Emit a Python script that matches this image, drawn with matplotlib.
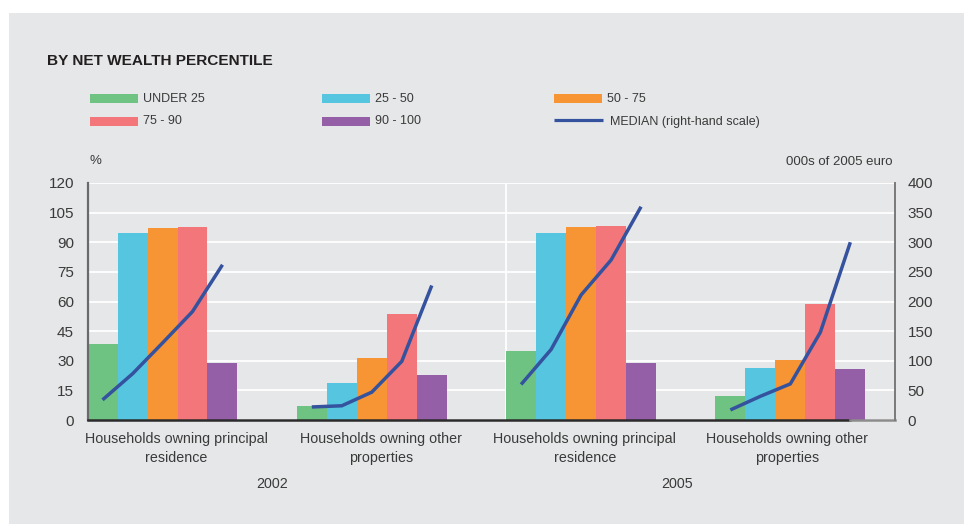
import numpy as np
import matplotlib
matplotlib.use("Agg")
import matplotlib.pyplot as plt
from matplotlib.patches import Rectangle
from matplotlib.lines import Line2D

plt.rcParams['font.family'] = ['Liberation Sans', 'DejaVu Sans']

# ---- data -------------------------------------------------------------
categories = [
    "Households owning principal\nresidence",
    "Households owning other\nproperties",
    "Households owning principal\nresidence",
    "Households owning other\nproperties",
]
years = ["2002", "2005"]
series_names = ["UNDER 25", "25 - 50", "50 - 75", "75 - 90", "90 - 100"]
median_name = "MEDIAN (right-hand scale)"

# share of households (%), one list per percentile group, across the 4 categories
under_25 = [38.7, 6.9, 35.1, 12.0]
p25_50 = [94.7, 18.5, 94.6, 26.1]
p50_75 = [97.2, 31.6, 97.6, 30.6]
p75_90 = [97.7, 53.8, 98.2, 58.9]
p90_100 = [29.1, 23.0, 29.1, 25.6]

# median value (000s of 2005 euro) per percentile group within each category
median_values = [
    [34, 78, 130, 183, 262],
    [22, 24, 47, 99, 227],
    [60, 119, 211, 270, 360],
    [17, 40, 61, 148, 300],
]

left_ticks = [0, 15, 30, 45, 60, 75, 90, 105, 120]
right_ticks = [0, 50, 100, 150, 200, 250, 300, 350, 400]

# ---- styling ------------------------------------------------------------
colors = ["#6fc382", "#56c5e0", "#f79434", "#f2767a", "#955fa7"]
line_color = "#35529f"
bg = "#e6e7e8"
text_color = "#3a3a3a"

W, H = 964, 524
fig = plt.figure(figsize=(W / 100, H / 100), dpi=100)
fig.patch.set_facecolor("white")
fig.add_artist(Rectangle((9 / W, 0), 1 - 9 / W, 1 - 13 / H,
                         transform=fig.transFigure, facecolor=bg,
                         edgecolor="none", zorder=-10))

ax = fig.add_axes([88 / W, (H - 420) / H, (895 - 88) / W, (420 - 183) / H])
ax.set_facecolor(bg)

n_series = len(series_names)
bar_w = 0.1433
group_x = np.arange(len(categories))
offsets = (np.arange(n_series) - (n_series - 1) / 2) * bar_w
bar_data = [under_25, p25_50, p50_75, p75_90, p90_100]

for k, (vals, col) in enumerate(zip(bar_data, colors)):
    ax.bar(group_x + offsets[k], vals, width=bar_w, color=col,
           edgecolor="none", zorder=2)

xmin = -0.356
xmax = 3.5
ax.set_xlim(xmin, xmax)
ax.set_ylim(0, 120)
ax.set_yticks(left_ticks)
ax.set_axisbelow(True)
ax.yaxis.grid(True, color="white", linewidth=1.3)
ax.xaxis.grid(False)

# white divider between the two survey years
sep_x = group_x[2] + offsets[0] - bar_w / 2
ax.axvline(sep_x, color="white", linewidth=1.3, zorder=1)

# category labels under each group
label_pos = [0.065, 1.044, 2.018, 2.984]
ax.set_xticks(label_pos)
ax.set_xticklabels(categories, fontsize=10.3, color=text_color, linespacing=1.45)
ax.tick_params(axis="x", length=0, pad=9)
ax.tick_params(axis="y", length=0, pad=10, labelsize=11, labelcolor=text_color)

for s in ["top", "right"]:
    ax.spines[s].set_visible(False)
ax.spines["left"].set_color("#6a6a6a")
ax.spines["left"].set_linewidth(1.6)
ax.spines["bottom"].set_color("#2b2b2b")
ax.spines["bottom"].set_linewidth(1.8)
ax.spines["bottom"].set_bounds(xmin, xmin + (850 - 88) / 209.3)
ax.axhline(0, xmin=(850 - 88) / 807, xmax=1, color="#8c8c8c", linewidth=1.8,
           clip_on=False, zorder=3)

# year labels
year_pos = [0.523, 2.458]
for yx, yr in zip(year_pos, years):
    ax.text(yx, -0.272, yr, transform=ax.get_xaxis_transform(),
            ha="center", va="center", fontsize=10.3, color=text_color)

# right-hand axis with the medians
ax2 = ax.twinx()
ax2.set_ylim(0, 400)
ax2.set_yticks(right_ticks)
ax2.tick_params(axis="y", length=0, pad=9, labelsize=11, labelcolor=text_color)
for s in ["top", "left", "bottom"]:
    ax2.spines[s].set_visible(False)
ax2.spines["right"].set_color("#7a7a7a")
ax2.spines["right"].set_linewidth(1.4)
for g, vals in enumerate(median_values):
    ax2.plot(group_x[g] + offsets, vals, color=line_color, linewidth=2.5,
             solid_capstyle="butt", solid_joinstyle="miter", zorder=5)

# axis unit labels
fig.text(89 / W, 1 - 161 / H, "%", fontsize=9.5, color=text_color,
         ha="left", va="center")
fig.text(893 / W, 1 - 162 / H, "000s of 2005 euro", fontsize=9.5,
         color=text_color, ha="right", va="center")

# title
fig.text(47 / W, 1 - 61 / H, "BY NET WEALTH PERCENTILE", fontsize=11.1,
         fontweight="bold", color="#231f20", ha="left", va="center")

# legend drawn in three columns, two rows
col_x = [90, 322, 554]
row_y = [98.5, 121.5]
legend_items = [(series_names[i], colors[i]) for i in range(n_series)]
slots = [(0, 0), (1, 0), (2, 0), (0, 1), (1, 1)]
for (name, col), (c, r) in zip(legend_items, slots):
    x0 = col_x[c]
    yc = row_y[r]
    fig.add_artist(Rectangle((x0 / W, 1 - (yc + 4.5) / H), 48 / W, 9 / H,
                             transform=fig.transFigure, facecolor=col,
                             edgecolor="none"))
    fig.text((x0 + 53) / W, 1 - yc / H, name, fontsize=9, color=text_color,
             ha="left", va="center")
fig.add_artist(Line2D([554 / W, 603 / W], [1 - 119.5 / H, 1 - 119.5 / H],
                      transform=fig.transFigure, color=line_color,
                      linewidth=2.3, solid_capstyle="butt"))
fig.text(610 / W, 1 - 121.5 / H, median_name, fontsize=9, color=text_color,
         ha="left", va="center")

fig.savefig("out.png", dpi=100, facecolor=fig.get_facecolor())
